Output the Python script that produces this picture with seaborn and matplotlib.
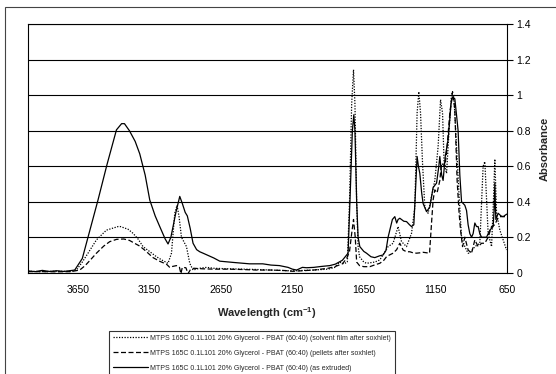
import numpy as np
import pandas as pd
import matplotlib
matplotlib.use("Agg")
import matplotlib.pyplot as plt
from matplotlib.patches import Rectangle
import seaborn as sns

# ---- spectra (wavenumber in cm^-1, absorbance) ----
extruded_wn = [4000, 3950, 3900, 3850, 3800, 3750, 3700, 3673, 3620, 3580, 3510, 3447, 3381,
               3345, 3325, 3290, 3250, 3218, 3180, 3148, 3110, 3078, 3040, 3020, 3000, 2965,
               2938, 2920, 2900, 2885, 2865, 2845, 2820, 2798, 2775, 2700, 2658, 2565, 2450,
               2357, 2300, 2240, 2180, 2150, 2120, 2080, 2050, 2000, 1950, 1888, 1850, 1800,
               1780, 1760, 1745, 1730, 1720, 1712, 1700, 1690, 1678, 1650, 1631, 1600, 1573,
               1540, 1515, 1495, 1480, 1468, 1450, 1433, 1420, 1410, 1398, 1370, 1351, 1330,
               1316, 1300, 1292, 1277, 1268, 1258, 1245, 1235, 1211, 1188, 1165, 1141, 1125,
               1118, 1105, 1095, 1080, 1060, 1040, 1029, 1013, 1000, 990, 978, 966, 943, 931,
               920, 908, 896, 885, 873, 861, 850, 838, 826, 791, 768, 745, 738, 733, 728, 726,
               710, 690, 675, 650]
extruded_abs = [0.010, 0.006, 0.013, 0.007, 0.011, 0.007, 0.012, 0.015, 0.08, 0.20, 0.41, 0.61,
                0.805, 0.84, 0.84, 0.80, 0.74, 0.67, 0.55, 0.41, 0.32, 0.26, 0.19, 0.162, 0.20,
                0.34, 0.43, 0.39, 0.34, 0.32, 0.25, 0.166, 0.13, 0.118, 0.11, 0.083, 0.065,
                0.058, 0.050, 0.050, 0.043, 0.040, 0.030, 0.020, 0.015, 0.030, 0.028, 0.030,
                0.035, 0.040, 0.048, 0.07, 0.09, 0.11, 0.45, 0.80, 0.89, 0.80, 0.40, 0.20,
                0.147, 0.12, 0.11, 0.09, 0.085, 0.095, 0.10, 0.125, 0.20, 0.24, 0.30, 0.316,
                0.28, 0.30, 0.307, 0.29, 0.288, 0.27, 0.26, 0.27, 0.40, 0.655, 0.60, 0.56,
                0.45, 0.39, 0.344, 0.37, 0.48, 0.505, 0.60, 0.655, 0.55, 0.52, 0.655, 0.75,
                0.95, 0.99, 0.98, 0.88, 0.80, 0.55, 0.40, 0.38, 0.35, 0.27, 0.22, 0.20, 0.22,
                0.28, 0.26, 0.26, 0.22, 0.20, 0.20, 0.24, 0.26, 0.35, 0.505, 0.35, 0.30, 0.335,
                0.32, 0.316, 0.33]

pellets_wn = [4000, 3900, 3800, 3700, 3638, 3600, 3560, 3521, 3470, 3428, 3380, 3330, 3290,
              3241, 3218, 3180, 3125, 3080, 3031, 3008, 2990, 2961, 2940, 2930, 2920, 2895,
              2880, 2865, 2840, 2780, 2700, 2600, 2500, 2400, 2300, 2200, 2150, 2100, 2000,
              1900, 1850, 1800, 1770, 1750, 1735, 1722, 1710, 1700, 1680, 1650, 1608, 1570,
              1538, 1510, 1491, 1470, 1445, 1420, 1398, 1375, 1351, 1328, 1305, 1281, 1258,
              1235, 1190, 1176, 1165, 1153, 1137, 1118, 1106, 1083, 1071, 1048, 1029, 1013,
              997, 983, 973, 959, 943, 920, 896, 873, 850, 826, 803, 780, 756, 733, 717, 698,
              650]
pellets_abs = [0.006, 0.006, 0.005, 0.006, 0.015, 0.04, 0.075, 0.11, 0.15, 0.175, 0.188, 0.19,
               0.182, 0.16, 0.15, 0.125, 0.085, 0.065, 0.048, 0.030, 0.035, 0.040, 0.030,
               -0.005, 0.030, 0.028, -0.005, 0.015, 0.025, 0.022, 0.020, 0.020, 0.018, 0.015,
               0.015, 0.012, 0.008, 0.010, 0.015, 0.025, 0.035, 0.050, 0.080, 0.12, 0.22, 0.30,
               0.20, 0.06, 0.04, 0.034, 0.034, 0.045, 0.053, 0.07, 0.09, 0.10, 0.11, 0.13,
               0.166, 0.128, 0.118, 0.118, 0.112, 0.11, 0.112, 0.115, 0.11, 0.28, 0.41, 0.467,
               0.45, 0.52, 0.617, 0.60, 0.674, 0.90, 1.02, 0.92, 0.52, 0.335, 0.24, 0.147,
               0.20, 0.128, 0.11, 0.185, 0.147, 0.166, 0.166, 0.20, 0.26, 0.27, 0.30, 0.316,
               0.316]

film_wn = [4000, 3900, 3800, 3700, 3661, 3620, 3580, 3521, 3451, 3370, 3353, 3300, 3265, 3230,
           3195, 3150, 3101, 3060, 3020, 2996, 2973, 2957, 2943, 2926, 2891, 2868, 2845, 2800,
           2750, 2700, 2600, 2500, 2400, 2300, 2200, 2150, 2100, 2000, 1900, 1853, 1820, 1790,
           1765, 1750, 1735, 1722, 1712, 1700, 1690, 1680, 1650, 1631, 1573, 1538, 1480, 1445,
           1410, 1386, 1351, 1316, 1293, 1277, 1265, 1253, 1239, 1223, 1200, 1176, 1153, 1130,
           1113, 1099, 1088, 1071, 1053, 1036, 1020, 1001, 983, 966, 943, 920, 908, 873, 838,
           815, 803, 780, 756, 743, 733, 721, 698, 675, 651]
film_abs = [0.008, 0.006, 0.008, 0.007, 0.015, 0.06, 0.11, 0.185, 0.24, 0.26, 0.26, 0.245, 0.222,
            0.19, 0.147, 0.12, 0.09, 0.07, 0.053, 0.11, 0.335, 0.38, 0.316, 0.20, 0.147, 0.053,
            0.015, 0.025, 0.030, 0.025, 0.022, 0.020, 0.018, 0.015, 0.012, 0.010, 0.012, 0.015,
            0.020, 0.030, 0.060, 0.05, 0.06, 0.40, 0.95, 1.144, 0.95, 0.40, 0.15, 0.09, 0.06,
            0.053, 0.06, 0.072, 0.147, 0.166, 0.26, 0.175, 0.147, 0.222, 0.37, 0.90, 1.02,
            0.90, 0.617, 0.37, 0.335, 0.43, 0.52, 0.71, 0.975, 0.90, 0.617, 0.56, 0.805, 1.01,
            1.00, 0.71, 0.43, 0.20, 0.147, 0.11, 0.11, 0.147, 0.166, 0.60, 0.626, 0.222, 0.147,
            0.40, 0.64, 0.335, 0.24, 0.185, 0.128]

labels = [
    "MTPS 165C 0.1L101 20% Glycerol - PBAT (60:40) (solvent film after soxhlet)",
    "MTPS 165C 0.1L101 20% Glycerol - PBAT (60:40) (pellets after soxhlet)",
    "MTPS 165C 0.1L101 20% Glycerol - PBAT (60:40) (as extruded)",
]
x_ticks = [3650, 3150, 2650, 2150, 1650, 1150, 650]
y_ticks = [0, 0.2, 0.4, 0.6, 0.8, 1.0, 1.2, 1.4]
y_tick_labels = ["0", "0.2", "0.4", "0.6", "0.8", "1", "1.2", "1.4"]

frames = []
for name, wn, ab in [(labels[0], film_wn, film_abs),
                     (labels[1], pellets_wn, pellets_abs),
                     (labels[2], extruded_wn, extruded_abs)]:
    frames.append(pd.DataFrame({"wavenumber": wn, "absorbance": ab, "sample": name}))
df = pd.concat(frames, ignore_index=True)

sns.set_style("white")
plt.rcParams["font.family"] = ["Liberation Sans", "DejaVu Sans"]
plt.rcParams["mathtext.fontset"] = "custom"
plt.rcParams["mathtext.rm"] = "Liberation Sans"
plt.rcParams["mathtext.bf"] = "Liberation Sans:bold"

fig = plt.figure(figsize=(5.56, 3.74), dpi=100)
ax = fig.add_axes([28 / 556, (374 - 272.7) / 374, (506.7 - 28) / 556, (272.7 - 24.3) / 374])

dash_styles = {labels[0]: (1, 1.2), labels[1]: (4, 2), labels[2]: ""}
sns.lineplot(data=df, x="wavenumber", y="absorbance", style="sample", style_order=labels,
             dashes=dash_styles, color="black", sort=False, estimator=None,
             linewidth=0.9, ax=ax, legend=True)

ax.set_xlim(4000, 650)
ax.set_ylim(0, 1.4)
ax.set_xticks(x_ticks)
ax.set_xticklabels([str(t) for t in x_ticks], fontsize=7.5)
ax.yaxis.tick_right()
ax.yaxis.set_label_position("right")
ax.set_yticks(y_ticks)
ax.set_yticklabels(y_tick_labels, fontsize=7.5)
ax.tick_params(axis="x", direction="inout", length=5, width=0.8, pad=6, colors="black")
ax.tick_params(axis="y", direction="out", length=4, width=0.8, pad=3, colors="black",
               right=True, left=False)
ax.yaxis.grid(True, color="black", linewidth=0.8)
ax.xaxis.grid(False)
for s in ax.spines.values():
    s.set_color("black")
    s.set_linewidth(0.8)

ax.set_xlabel(r"Wavelength (cm$^{\mathbf{-1}}$)", fontsize=8, fontweight="bold", labelpad=8)
ax.set_ylabel("Absorbance", fontsize=8, fontweight="bold", labelpad=6)

leg = ax.legend(loc="upper left", bbox_to_anchor=(109 / 556, (374 - 330.7) / 374),
                bbox_transform=fig.transFigure, fontsize=5, frameon=True, fancybox=False,
                edgecolor="black", borderaxespad=0, handlelength=5, handletextpad=0.3,
                labelspacing=1.15, borderpad=0.6)
leg.get_frame().set_linewidth(0.8)

# chart area border
fig.patches.append(Rectangle((5 / 556, -0.2), 1.2, 0.2 + (374 - 7) / 374,
                             transform=fig.transFigure, fill=False,
                             edgecolor="#444444", linewidth=0.8))

fig.savefig("out.png", dpi=100)
